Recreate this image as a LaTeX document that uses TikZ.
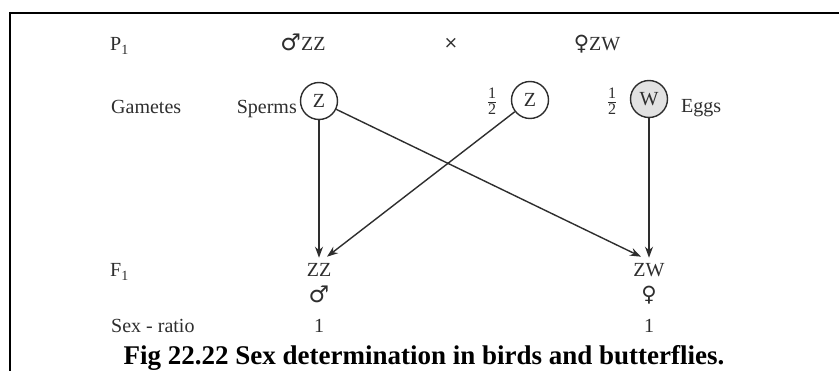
\documentclass[tikz,border=0pt]{standalone}
\usepackage{fontspec}
\setmainfont{Liberation Serif}
\newfontfamily\symfont{DejaVu Sans}
\usetikzlibrary{arrows.meta}
\definecolor{ink}{HTML}{2E2E2E}
\definecolor{wfill}{HTML}{E2E2E2}
\newcommand{\mal}{{\symfont\fontsize{23}{24}\selectfont ♂}}
\newcommand{\fem}{{\symfont\fontsize{21}{24}\selectfont ♀}}
\newcommand{\halff}{$\frac{\mbox{\fontsize{16}{16}\selectfont 1}}{\mbox{\fontsize{16}{16}\selectfont 2}}$}
\begin{document}
\begin{tikzpicture}[x=1pt,y=-1pt,
  lbl/.style={text=ink, font=\fontsize{20}{24}\selectfont, inner sep=0pt, anchor=base},
  lblw/.style={lbl, anchor=base west},
  gamete/.style={draw=ink, circle, line width=1.4pt, minimum size=37pt, inner sep=0pt, text=ink, font=\fontsize{20}{24}\selectfont},
  arr/.style={draw=ink, line width=1.4pt, -{Stealth[length=11pt,width=8pt]}},
]
\useasboundingbox (0,0) rectangle (839,371);
\fill[white] (0,0) rectangle (839,371);
\draw[line width=2.2pt] (10,13) -- (839,13);
\draw[line width=2pt] (10,12) -- (10,371);
% row 1
\node[lblw] (p1) at (110,51) {P\textsubscript{1}};
\node[lbl] (male) at (303,51) {\mal ZZ};
\node[lbl, font=\symfont\fontsize{17}{20}\selectfont] (cross) at (451,49) {×};
\node[lbl] (female) at (597,51) {\fem ZW};
% row 2
\node[lblw] (gam) at (111,114) {Gametes};
\node[lbl, anchor=base east] (sperms) at (297,114) {Sperms};
\node[gamete] (zs) at (319,101) {Z};
\node[lbl] (half1) at (492,107) {\halff};
\node[gamete] (zf) at (530,100) {Z};
\node[lbl] (half2) at (612,107) {\halff};
\node[gamete, fill=wfill] (wf) at (649,99) {W};
\node[lblw] (eggs) at (681,113) {Eggs};
% row 3
\node[lblw] (f1) at (110,277) {F\textsubscript{1}};
\node[lbl] (zz) at (319,277) {ZZ};
\node[lbl] (ms) at (319,303) {\mal};
\node[lbl] (zw) at (649,277) {ZW};
\node[lbl] (fs) at (649,302) {\fem};
% row 4
\node[lblw] (sr) at (111,333) {Sex - ratio};
\node[lbl] (r1) at (319,333) {1};
\node[lbl] (r2) at (649,333) {1};
% caption
\node[anchor=base, inner sep=0pt, font=\bfseries\fontsize{27}{30}\selectfont] (cap) at (424,365) {Fig 22.22 Sex determination in birds and butterflies.};
% arrows
\draw[arr] (zs) -- ([yshift=6pt]zz.north);
\draw[arr] (zs) -- ([xshift=-8pt,yshift=7pt]zw.north);
\draw[arr] (zf) -- ([xshift=8pt,yshift=7pt]zz.north);
\draw[arr] (wf) -- ([yshift=6pt]zw.north);
\end{tikzpicture}
\end{document}
